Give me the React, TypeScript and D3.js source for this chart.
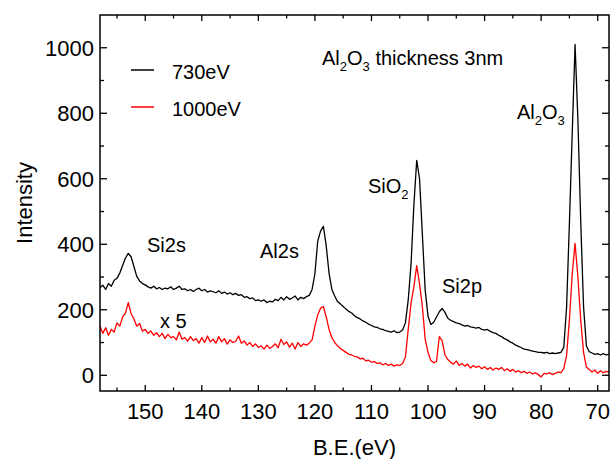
import React, { useEffect, useRef } from "react";
import * as d3 from "d3";

// binding energy grid, 158 -> 68 eV in 0.5 eV steps
const energy = d3.range(158, 67.75, -0.5);

// 730 eV spectrum
const i730 = [
  268, 275, 262, 280, 272, 290, 296, 312, 335, 358,
  372, 362, 332, 302, 288, 280, 276, 270, 266, 272,
  264, 268, 262, 266, 264, 270, 262, 266, 272, 262,
  264, 258, 262, 256, 262, 266, 258, 262, 254, 258,
  255, 252, 258, 250, 254, 248, 252, 246, 250, 244,
  246, 238, 240, 234, 236, 228, 230, 226, 230, 222,
  226, 224, 232, 228, 238, 230, 240, 232, 236, 242,
  230, 238, 234, 240, 244, 262, 310, 410, 440, 455,
  395, 312, 262, 242, 225, 218, 210, 202, 195, 190,
  182, 176, 172, 166, 162, 156, 152, 148, 146, 142,
  140, 136, 134, 132, 136, 130, 132, 138, 160, 230,
  340, 520, 656, 600, 430, 260, 180, 155, 162, 178,
  194, 204, 192, 174, 168, 164, 160, 158, 154, 150,
  152, 148, 146, 144, 146, 140, 138, 140, 134, 130,
  128, 122, 118, 112, 108, 102, 98, 92, 88, 84,
  80, 78, 76, 74, 72, 70, 70, 68, 70, 66,
  68, 66, 68, 70, 85, 207, 465, 740, 1010, 780,
  470, 210, 90, 72, 68, 64, 66, 62, 66, 62,
  64,
];

// 1000 eV spectrum, multiplied by 5
const i1000x5 = [
  150, 128, 145, 122, 140, 132, 160, 150, 178, 190,
  222, 188, 172, 150, 158, 135, 140, 128, 135, 122,
  130, 118, 128, 112, 125, 115, 118, 108, 132, 110,
  115, 104, 118, 106, 112, 98, 115, 100, 120, 102,
  110, 98, 118, 102, 112, 95, 108, 100, 104, 120,
  98, 105, 92, 100, 88, 96, 85, 90, 80, 92,
  82, 88, 96, 84, 110, 94, 102, 86, 98, 80,
  100, 88, 96, 92, 98, 108, 150, 185, 205, 210,
  178, 140, 115, 100, 90, 82, 76, 70, 64, 62,
  58, 56, 50, 52, 44, 46, 40, 42, 36, 38,
  32, 36, 30, 34, 28, 32, 30, 36, 55, 140,
  220, 270, 335, 280, 210, 110, 70, 45, 38, 42,
  118, 105, 62, 48, 40, 34, 44, 30, 36, 28,
  34, 22, 30, 24, 28, 20, 26, 18, 24, 16,
  22, 18, 24, 14, 20, 12, 18, 10, 14, 8,
  12, 6, 10, 4, 8, 2, -5, 6, 4, 8,
  2, 6, 10, 8, 20, 60, 170, 310, 403, 300,
  170, 70, 25, 18, 10, 16, 6, 14, 8, 12,
  10,
];

const xMajor = [150, 140, 130, 120, 110, 100, 90, 80, 70];
const xMinor = [155, 145, 135, 125, 115, 105, 95, 85, 75];
const yMajor = [0, 200, 400, 600, 800, 1000];
const yMinor = [100, 300, 500, 700, 900];

const FONT = "'Liberation Sans', Arial, Helvetica, sans-serif";

const App = () => {
  const svgRef = useRef<SVGSVGElement>(null);

  useEffect(() => {
    const svg = d3.select(svgRef.current);
    const width = 611;
    const height = 459;
    const margin = { top: 15, right: 2, bottom: 68, left: 100 };

    svg.selectAll("*").remove();

    const x0 = margin.left;
    const x1 = width - margin.right;
    const y0 = margin.top;
    const y1 = height - margin.bottom;

    const x = d3.scaleLinear().domain([158, 68]).range([x0, x1]);
    const y = d3.scaleLinear().domain([-48, 1100]).range([y1, y0]);

    svg
      .append("clipPath")
      .attr("id", "plot-clip")
      .append("rect")
      .attr("x", x0)
      .attr("y", y0)
      .attr("width", x1 - x0)
      .attr("height", y1 - y0);

    // spectra
    const series = [
      { values: i730, color: "#000000" },
      { values: i1000x5, color: "#ff0000" },
    ];
    const line = d3
      .line<number>()
      .x((_, i) => x(energy[i]))
      .y((d) => y(d));
    series.forEach((s) => {
      svg
        .append("path")
        .datum(s.values)
        .attr("clip-path", "url(#plot-clip)")
        .attr("fill", "none")
        .attr("stroke", s.color)
        .attr("stroke-width", 1.3)
        .attr("stroke-linejoin", "round")
        .attr("d", line);
    });

    // frame
    svg
      .append("rect")
      .attr("x", x0)
      .attr("y", y0)
      .attr("width", x1 - x0)
      .attr("height", y1 - y0)
      .attr("fill", "none")
      .attr("stroke", "#000")
      .attr("stroke-width", 1.5);

    // inward ticks on all four sides
    const ticks = svg.append("g").attr("stroke", "#000").attr("stroke-width", 1.3);
    const xt = [
      ...xMajor.map((v) => ({ v, len: 6 })),
      ...xMinor.map((v) => ({ v, len: 3.5 })),
    ];
    xt.forEach(({ v, len }) => {
      ticks.append("line").attr("x1", x(v)).attr("x2", x(v)).attr("y1", y1).attr("y2", y1 - len);
      ticks.append("line").attr("x1", x(v)).attr("x2", x(v)).attr("y1", y0).attr("y2", y0 + len);
    });
    const yt = [
      ...yMajor.map((v) => ({ v, len: 7 })),
      ...yMinor.map((v) => ({ v, len: 4 })),
    ];
    yt.forEach(({ v, len }) => {
      ticks.append("line").attr("y1", y(v)).attr("y2", y(v)).attr("x1", x0).attr("x2", x0 + len);
      ticks.append("line").attr("y1", y(v)).attr("y2", y(v)).attr("x1", x1).attr("x2", x1 - len);
    });

    // tick labels
    svg
      .append("g")
      .selectAll("text")
      .data(xMajor)
      .enter()
      .append("text")
      .attr("x", (d) => x(d))
      .attr("y", y1 + 28)
      .attr("text-anchor", "middle")
      .attr("font-family", FONT)
      .attr("font-size", 22)
      .text((d) => d);

    svg
      .append("g")
      .selectAll("text")
      .data(yMajor)
      .enter()
      .append("text")
      .attr("x", x0 - 6)
      .attr("y", (d) => y(d))
      .attr("dy", "0.36em")
      .attr("text-anchor", "end")
      .attr("font-family", FONT)
      .attr("font-size", 22)
      .text((d) => d);

    // axis titles
    svg
      .append("text")
      .attr("x", (x0 + x1) / 2)
      .attr("y", 455)
      .attr("text-anchor", "middle")
      .attr("font-family", FONT)
      .attr("font-size", 22)
      .text("B.E.(eV)");

    svg
      .append("text")
      .attr("transform", `translate(32, ${(y0 + y1) / 2}) rotate(-90)`)
      .attr("text-anchor", "middle")
      .attr("font-family", FONT)
      .attr("font-size", 22)
      .text("Intensity");

    // legend
    const legend = [
      { label: "730eV", color: "#000000", ly: 70 },
      { label: "1000eV", color: "#ff0000", ly: 107 },
    ];
    legend.forEach((l) => {
      svg
        .append("line")
        .attr("x1", 131)
        .attr("x2", 154)
        .attr("y1", l.ly)
        .attr("y2", l.ly)
        .attr("stroke", l.color)
        .attr("stroke-width", 1.5);
      svg
        .append("text")
        .attr("x", 172)
        .attr("y", l.ly + 9)
        .attr("font-family", FONT)
        .attr("font-size", 20)
        .text(l.label);
    });

    // annotations, with subscripts
    const note = (px: number, py: number, parts: [string, boolean][]) => {
      const t = svg
        .append("text")
        .attr("x", px)
        .attr("y", py)
        .attr("font-family", FONT)
        .attr("font-size", 20);
      let down = false;
      parts.forEach(([s, sub]) => {
        const ts = t.append("tspan").text(s);
        if (sub && !down) ts.attr("dy", 6).attr("font-size", 13);
        else if (sub) ts.attr("font-size", 13);
        if (!sub && down) ts.attr("dy", -6);
        down = sub;
      });
    };

    note(322, 65, [["Al", false], ["2", true], ["O", false], ["3", true], [" thickness 3nm", false]]);
    note(517, 119, [["Al", false], ["2", true], ["O", false], ["3", true]]);
    note(368, 193, [["SiO", false], ["2", true]]);
    note(147, 252, [["Si2s", false]]);
    note(260, 258, [["Al2s", false]]);
    note(442, 293, [["Si2p", false]]);
    note(160, 328, [["x 5", false]]);
  }, []);

  return (
    <svg
      ref={svgRef}
      width={611}
      height={459}
      style={{ position: "absolute", left: 0, top: 0, background: "#fff" }}
    ></svg>
  );
};

export default App;
